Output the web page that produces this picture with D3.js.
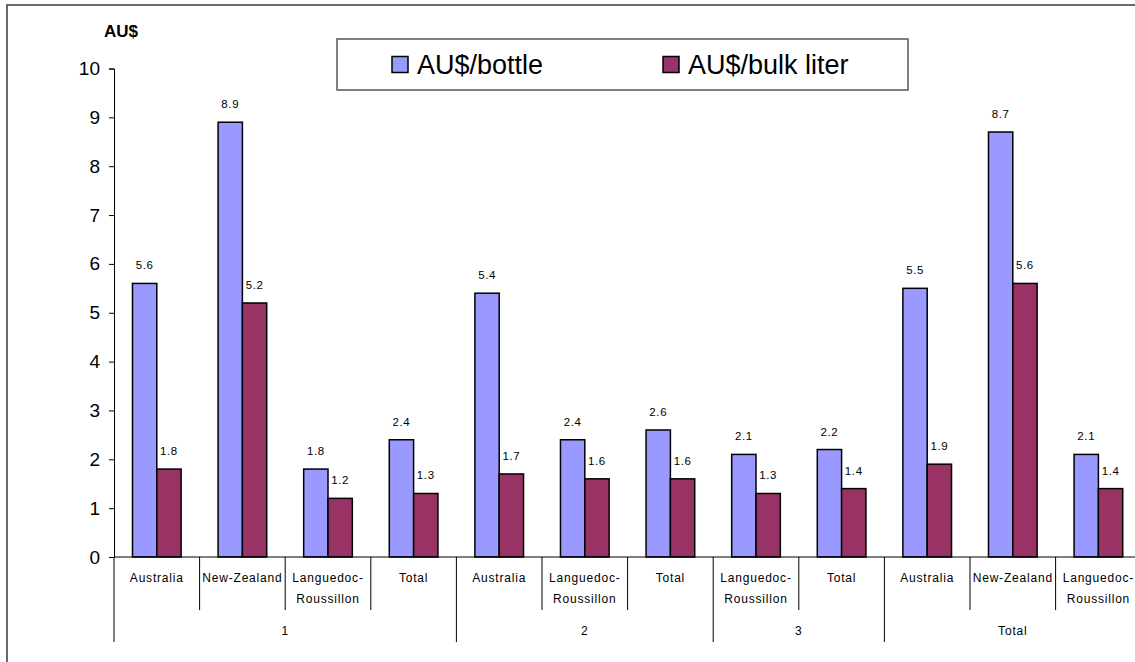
<!DOCTYPE html>
<html>
<head>
<meta charset="utf-8">
<script src="https://cdn.jsdelivr.net/npm/d3@7/dist/d3.min.js"></script>
<style>
  html, body { margin: 0; padding: 0; background: #fff; }
  svg { display: block; font-family: "Liberation Sans", Arial, sans-serif; }
</style>
</head>
<body>
<svg id="chart" width="1135" height="662"></svg>
<script>
// Price per bottle and per bulk liter, grouped by cluster
const groups = ["1", "2", "3", "Total"];
const groupRegions = [
  ["Australia", "New-Zealand", "Languedoc-Roussillon", "Total"],
  ["Australia", "Languedoc-Roussillon", "Total"],
  ["Languedoc-Roussillon", "Total"],
  ["Australia", "New-Zealand", "Languedoc-Roussillon"]
];
const series = ["AU$/bottle", "AU$/bulk liter"];
const bottle = [5.6, 8.9, 1.8, 2.4, 5.4, 2.4, 2.6, 2.1, 2.2, 5.5, 8.7, 2.1];
const bulk   = [1.8, 5.2, 1.2, 1.3, 1.7, 1.6, 1.6, 1.3, 1.4, 1.9, 5.6, 1.4];
const yTicks = [0, 1, 2, 3, 4, 5, 6, 7, 8, 9, 10];
const colors = ["#9999FF", "#993366"];

// Flatten the two-level category axis
const cats = [];
groupRegions.forEach((regions, gi) => {
  regions.forEach(r => cats.push({ key: groups[gi] + "|" + r, group: groups[gi], region: r }));
});
cats.forEach((c, i) => { c.values = [bottle[i], bulk[i]]; });

const svg = d3.select("#chart");

const plotLeft = 114, plotTop = 68.5, plotBottom = 557;
const step = 85.6;

const x = d3.scaleBand()
  .domain(cats.map(c => c.key))
  .range([plotLeft, plotLeft + step * cats.length])
  .padding(0);

const xSub = d3.scaleBand()
  .domain(series)
  .range([0, x.bandwidth()])
  .paddingInner(0)
  .paddingOuter(0.76);

const y = d3.scaleLinear().domain([0, 10]).range([plotBottom, plotTop]);

// Outer frame
svg.append("rect")
  .attr("x", 7).attr("y", 5)
  .attr("width", 1200).attr("height", 700)
  .attr("fill", "none")
  .attr("stroke", "#3a3a3a")
  .attr("stroke-width", 1.5);

// Y axis
const yAxis = svg.append("g")
  .attr("transform", `translate(${plotLeft},0)`)
  .call(d3.axisLeft(y).tickValues(yTicks).tickSize(5).tickPadding(9).tickFormat(d3.format("d")));
yAxis.select(".domain").attr("stroke", "#000").attr("stroke-width", 1);
yAxis.selectAll(".tick line").attr("stroke", "#000");
yAxis.selectAll(".tick text")
  .attr("fill", "#000")
  .style("font-size", "19px")
  .style("font-family", "'Liberation Sans', Arial, sans-serif");

// Y axis title
svg.append("text")
  .attr("x", 104).attr("y", 37)
  .style("font-size", "17px")
  .style("font-weight", "bold")
  .text("AU$");

// Bars
const catG = svg.append("g").selectAll("g")
  .data(cats)
  .join("g")
  .attr("transform", d => `translate(${x(d.key)},0)`);

catG.selectAll("rect")
  .data(d => d.values.map((v, i) => ({ s: series[i], v, i })))
  .join("rect")
  .attr("x", d => xSub(d.s))
  .attr("y", d => y(d.v))
  .attr("width", xSub.bandwidth())
  .attr("height", d => y(0) - y(d.v))
  .attr("fill", d => colors[d.i])
  .attr("stroke", "#000")
  .attr("stroke-width", 1.5);

// Value labels
catG.selectAll("text.val")
  .data(d => d.values.map((v, i) => ({ s: series[i], v, i })))
  .join("text")
  .attr("class", "val")
  .attr("x", d => xSub(d.s) + xSub.bandwidth() / 2)
  .attr("y", d => y(d.v) - 14)
  .attr("text-anchor", "middle")
  .style("font-size", "11.5px")
  .style("letter-spacing", "0.6px")
  .text(d => d3.format(".1f")(d.v));

// X axis baseline
svg.append("line")
  .attr("x1", plotLeft).attr("x2", 1200)
  .attr("y1", plotBottom).attr("y2", plotBottom)
  .attr("stroke", "#000").attr("stroke-width", 1);

// Category ticks and labels
const axisG = svg.append("g");
cats.forEach((c, i) => {
  const x0 = x(c.key);
  const isGroupStart = i === 0 || cats[i - 1].group !== c.group;
  axisG.append("line")
    .attr("x1", x0).attr("x2", x0)
    .attr("y1", plotBottom).attr("y2", isGroupStart ? 642 : 610)
    .attr("stroke", "#000").attr("stroke-width", 1);
  const cx = x0 + x.bandwidth() / 2;
  const parts = c.region === "Languedoc-Roussillon" ? ["Languedoc-", "Roussillon"] : [c.region];
  parts.forEach((p, li) => {
    axisG.append("text")
      .attr("x", cx).attr("y", 582 + li * 21)
      .attr("text-anchor", "middle")
      .style("font-size", "12px")
      .style("letter-spacing", "0.8px")
      .text(p);
  });
});
// closing tick at the end of the last category
const xEnd = x.range()[1];
axisG.append("line")
  .attr("x1", xEnd).attr("x2", xEnd)
  .attr("y1", plotBottom).attr("y2", 642)
  .attr("stroke", "#000");

// Group labels
groups.forEach(g => {
  const members = cats.filter(c => c.group === g);
  const gx0 = x(members[0].key);
  const gx1 = x(members[members.length - 1].key) + x.bandwidth();
  axisG.append("text")
    .attr("x", (gx0 + gx1) / 2).attr("y", 635)
    .attr("text-anchor", "middle")
    .style("font-size", "12px")
    .style("letter-spacing", "0.8px")
    .text(g);
});

// Legend
const legend = svg.append("g");
legend.append("rect")
  .attr("x", 337).attr("y", 39)
  .attr("width", 571).attr("height", 51)
  .attr("fill", "#fff")
  .attr("stroke", "#555")
  .attr("stroke-width", 1.5);
const legendX = [392, 663];
series.forEach((s, i) => {
  legend.append("rect")
    .attr("x", legendX[i]).attr("y", 56.5)
    .attr("width", 16).attr("height", 16)
    .attr("fill", colors[i])
    .attr("stroke", "#000")
    .attr("stroke-width", 1.5);
  legend.append("text")
    .attr("x", legendX[i] + 25).attr("y", 73.5)
    .style("font-size", "27px")
    .text(s);
});
</script>
</body>
</html>
